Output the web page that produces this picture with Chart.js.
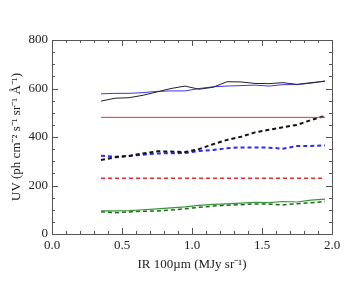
<!DOCTYPE html>
<html><head><meta charset="utf-8">
<script src="https://cdn.jsdelivr.net/npm/chart.js@4"></script>
<style>html,body{margin:0;padding:0;background:#fff}#c{display:block}</style>
</head><body>
<canvas id="c" width="355" height="281"></canvas>
<script>
const irX = [0.35,0.45,0.55,0.65,0.75,0.85,0.95,1.05,1.15,1.25,1.35,1.45,1.55,1.65,1.75,1.85,1.95];
const blackSolid = [548,560,562,572,586,600,610,597,605,628,627,621,620,624,617,624,630];
const blueSolid  = [578,580,580,583,588,590,590,600,607,610,612,614,610,616,616,622,631];
const redSolid   = [481,481,481,481,481,481,481,481,481,481,481,481,481,481,481,481,481];
const blackDash  = [305,316,322,332,341,340,338,350,370,388,401,419,430,440,450,470,487];
const blueDash   = [323,319,322,327,332,333,334,342,346,354,357,357,356,352,363,363,365];
const redDash    = [230,230,230,230,230,230,230,230,230,230,230,230,230,230,230,230,230];
const greenSolid = [95,95,96,100,104,108,112,118,122,124,127,131,129,134,132,140,144];
const greenDash  = [92,88,91,94,95,99,104,110,115,119,121,124,123,120,125,129,134];
const xTicks = [0.0,0.5,1.0,1.5,2.0];
const yTicks = [0,200,400,600,800];
const xTitle = 'IR 100\u00B5m (MJy sr\u207B\u00B9)';
const yTitle = 'UV (ph cm\u207B\u00B2 s\u207B\u00B9 sr\u207B\u00B9 \u00C5\u207B\u00B9)';

const pts = arr => arr.map((v,i)=>({x:irX[i], y:v}));
function ds(arr, color, dashed, width){
  return {data: pts(arr), borderColor: color, borderWidth: width, borderDash: dashed?[4,3]:[],
          pointRadius:0, fill:false, tension:0};
}
const FONT = {family:'"Liberation Serif", "Times New Roman", serif', size:13};

const frame = {
  id:'frame',
  afterDraw(chart){
    const {ctx, chartArea:a, scales:{x,y}} = chart;
    ctx.save();
    ctx.strokeStyle = '#555'; ctx.lineWidth = 1;
    ctx.strokeRect(a.left+0.5, a.top+0.5, a.right-a.left, a.bottom-a.top);
    ctx.beginPath();
    for (let v=0; v<=2.0001; v+=0.1){
      const px = Math.round(x.getPixelForValue(v))+0.5;
      const major = Math.abs(v*2-Math.round(v*2))<1e-6;
      const L = major?6:3;
      ctx.moveTo(px,a.bottom); ctx.lineTo(px,a.bottom-L);
      ctx.moveTo(px,a.top); ctx.lineTo(px,a.top+L);
    }
    for (let v=0; v<=800; v+=50){
      const py = Math.round(y.getPixelForValue(v))+0.5;
      const L = (v%200===0)?6:3;
      ctx.moveTo(a.left,py); ctx.lineTo(a.left+L,py);
      ctx.moveTo(a.right,py); ctx.lineTo(a.right-L,py);
    }
    ctx.stroke();
    ctx.restore();
  }
};

new Chart(document.getElementById('c'), {
  type:'line',
  data:{datasets:[
    ds(redSolid,'#e83232',false,1),
    ds(blackSolid,'#222',false,1),
    ds(blueSolid,'#3838f0',false,1),
    ds(blackDash,'#111',true,2),
    ds(blueDash,'#2a2aff',true,2),
    ds(redDash,'#ee2a2a',true,1.5),
    ds(greenSolid,'#3a943a',false,1.2),
    ds(greenDash,'#1a6a1a',true,1.5)
  ]},
  options:{
    responsive:false, animation:false,
    layout:{padding:{left:0, top:40, right:23, bottom:9}},
    plugins:{legend:{display:false}, tooltip:{enabled:false}},
    scales:{
      x:{type:'linear', min:0, max:2,
         afterBuildTicks: s => { s.ticks = xTicks.map(v=>({value:v})); },
         afterFit: s => { s.height = 38; },
         grid:{display:false, drawTicks:false}, border:{display:false},
         ticks:{color:'#222', font:FONT, padding:4, maxRotation:0, callback:v=>Number(v).toFixed(1)},
         title:{display:true, text:xTitle, color:'#222', font:FONT, padding:{top:0,bottom:0}}},
      y:{type:'linear', min:0, max:800,
         afterBuildTicks: s => { s.ticks = yTicks.map(v=>({value:v})); },
         afterFit: s => { s.width = 52; },
         grid:{display:false, drawTicks:false}, border:{display:false},
         ticks:{color:'#222', font:FONT, padding:4},
         title:{display:true, text:yTitle, color:'#222', font:FONT, padding:{top:9,bottom:4}}}
    }
  },
  plugins:[frame]
});
</script>
</body></html>
